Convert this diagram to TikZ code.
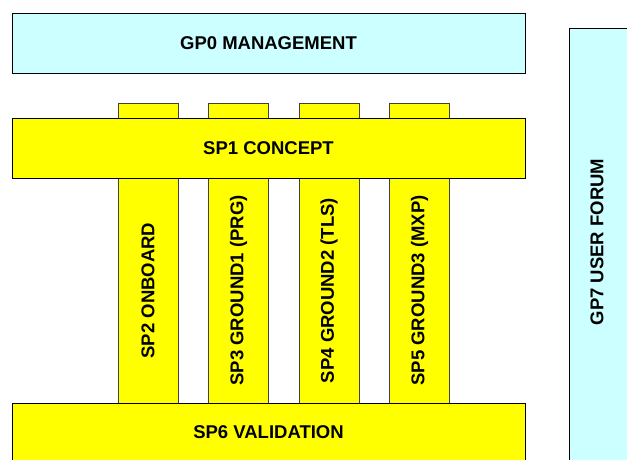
\documentclass[tikz,border=0pt]{standalone}
\usepackage{fontspec}
\setmainfont{Liberation Sans}[BoldFont={Liberation Sans Bold}]
\usepackage{xcolor}
\definecolor{gpCyan}{HTML}{CCFFFF}
\definecolor{spYellow}{HTML}{FFFF00}
\tikzset{
GPBoite/.style={
 draw=black, 
 fill=gpCyan, 
 line width=0.8pt, 
 inner sep=0pt, 
 font=\fontsize{18.5}{21}\selectfont\bfseries
 },
SPBoite/.style={
 draw=black, 
 fill=spYellow, 
 line width=0.8pt, 
 inner sep=0pt, 
 minimum width=513pt, 
 font=\fontsize{18.5}{21}\selectfont\bfseries
 },
SPPilier/.style={
 draw=black!75, 
 fill=spYellow, 
 line width=0.8pt, 
 inner sep=0pt, 
 rotate=90, 
 minimum width=225pt, 
 minimum height=60pt, 
 font=\fontsize{18.5}{21}\selectfont\bfseries
 },
SPTenon/.style={
 draw=black!75, 
 fill=spYellow, 
 line width=0.8pt, 
 inner sep=0pt, 
 minimum width=60pt, 
 minimum height=15pt
 }
}

\begin{document}
\begin{tikzpicture}[x=1pt,y=-1pt]
\useasboundingbox (0,0) rectangle (627,460);
\node[GPBoite,minimum width=513pt,minimum height=60pt] (gp0) at (268.5,43) {GP0 MANAGEMENT};
\filldraw[draw=black,fill=gpCyan,line width=0.8pt] (569,28) rectangle (640,480);
\node[font=\fontsize{18.5}{21}\selectfont\bfseries,rotate=90] (gp7) at (597,242) {GP7 USER FORUM};
\node[SPTenon] (t2) at (148,110.5) {};
\node[SPTenon] (t3) at (238.5,110.5) {};
\node[SPTenon] (t4) at (329,110.5) {};
\node[SPTenon] (t5) at (419.5,110.5) {};
\node[SPPilier] (sp2) at (148,290.5) {SP2 ONBOARD};
\node[SPPilier] (sp3) at (238.5,290.5) {SP3 GROUND1 (PRG)};
\node[SPPilier] (sp4) at (329,290.5) {SP4 GROUND2 (TLS)};
\node[SPPilier] (sp5) at (419.5,290.5) {SP5 GROUND3 (MXP)};
\node[SPBoite,minimum height=60pt] (sp1) at (268.5,148) {SP1 CONCEPT};
\node[SPBoite,minimum height=59pt] (sp6) at (268.5,432.5) {SP6 VALIDATION};
\end{tikzpicture}
\end{document}
